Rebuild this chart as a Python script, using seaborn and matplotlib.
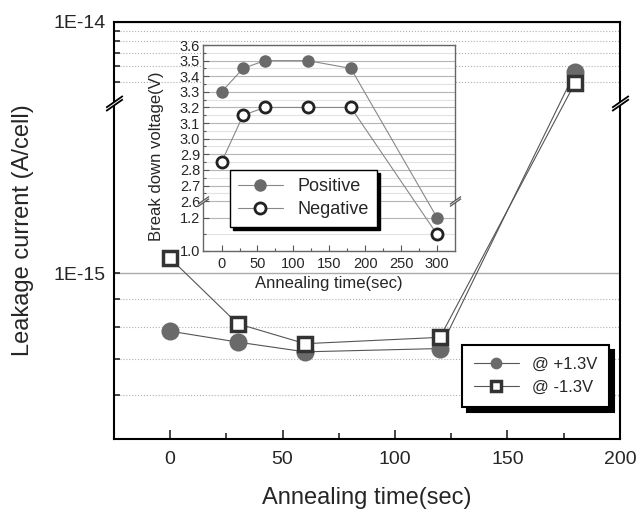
import numpy as np
import seaborn as sns
import matplotlib.pyplot as plt
from matplotlib.path import Path
from matplotlib.ticker import FixedLocator, FixedFormatter, NullFormatter

# main plot data (leakage current vs annealing time)
anneal_time = [0, 30, 60, 120, 180]
leak_pos = [7.85e-16, 7.5e-16, 7.2e-16, 7.3e-16, 5.6e-15]
leak_neg = [1.065e-15, 8.1e-16, 7.45e-16, 7.65e-16, 4.95e-15]

# inset data (break down voltage vs annealing time)
inset_time = [0, 30, 60, 120, 180, 300]
bv_pos = [3.3, 3.45, 3.5, 3.5, 3.45, 1.2]
bv_neg = [2.85, 3.15, 3.2, 3.2, 3.2, 1.1]

main_yticks = [1e-15, 1e-14]
main_ylabels = ['1E-15', '1E-14']
inset_yticks = [1.0, 1.2, 2.6, 2.7, 2.8, 2.9, 3.0, 3.1, 3.2, 3.3, 3.4, 3.5, 3.6]

sns.set_style('ticks')
plt.rcParams['font.family'] = ['Liberation Sans', 'DejaVu Sans']

# broken log scale: 5e-16..2e-15 below the break, 4e-15..1e-14 above
LO_MIN, LO_MAX, HI_MIN = 5e-16, 2.04e-15, 3.94e-15
LO_SPAN = np.log10(LO_MAX / LO_MIN)
HI_W = 200 / 550


def fwd_log(y):
    with np.errstate(all='ignore'):
        ly = np.log10(np.clip(np.asarray(y, float), 1e-30, None))
        lo = ly - np.log10(LO_MIN)
        hi = LO_SPAN + (ly - np.log10(HI_MIN)) * HI_W
        return np.where(ly <= np.log10(LO_MAX), lo,
                        np.where(ly >= np.log10(HI_MIN), hi, LO_SPAN))


def inv_log(u):
    with np.errstate(all='ignore'):
        u = np.asarray(u, float)
        lo = 10 ** (u + np.log10(LO_MIN))
        hi = 10 ** ((u - LO_SPAN) / HI_W + np.log10(HI_MIN))
        return np.where(u <= LO_SPAN, lo, hi)


# broken linear scale for the inset: 1.0..1.3 and 2.6..3.6
def fwd_bv(y):
    y = np.asarray(y, float)
    return np.where(y <= 1.3, y - 1.0, np.where(y >= 2.6, 0.3 + (y - 2.6) * 0.94, 0.3))


def inv_bv(u):
    u = np.asarray(u, float)
    return np.where(u <= 0.3, u + 1.0, 2.6 + (u - 0.3) / 0.94)


def break_marks(ax, yval, size, color, lw):
    gap = Path([(-1, -0.9), (1, 0.5), (1, 0.9), (-1, -0.5), (-1, -0.9)])
    lines = Path([(-1, -0.9), (1, 0.5), (-1, -0.5), (1, 0.9)],
                 [Path.MOVETO, Path.LINETO, Path.MOVETO, Path.LINETO])
    for xpos in (0, 1):
        ax.plot([xpos], [yval], transform=ax.get_yaxis_transform(), clip_on=False,
                marker=gap, markersize=size, markerfacecolor='white',
                markeredgewidth=0, linestyle='none', zorder=10)
        ax.plot([xpos], [yval], transform=ax.get_yaxis_transform(), clip_on=False,
                marker=lines, markersize=size, markerfacecolor='none',
                markeredgecolor=color, markeredgewidth=lw, linestyle='none', zorder=11)


fig = plt.figure(figsize=(6.4, 5.12), dpi=100)
ax = fig.add_axes([0.178, 0.1426, 0.7906, 0.8145])

sns.lineplot(x=anneal_time, y=leak_pos, ax=ax, color='#555555', lw=0.8, marker='o',
             markersize=13, markerfacecolor='#6a6a6a', markeredgecolor='#6a6a6a',
             markeredgewidth=0, label='@ +1.3V', legend=False)
sns.lineplot(x=anneal_time, y=leak_neg, ax=ax, color='#555555', lw=0.8, marker='s',
             markersize=10, markerfacecolor='white', markeredgecolor='#333333',
             markeredgewidth=2.5, label='@ -1.3V', legend=False)

ax.set_yscale('function', functions=(fwd_log, inv_log))
ax.set_ylim(LO_MIN, 1e-14)
ax.set_xlim(-25, 200)
ax.yaxis.set_major_locator(FixedLocator(main_yticks))
ax.yaxis.set_major_formatter(FixedFormatter(main_ylabels))
ax.yaxis.set_minor_locator(FixedLocator([6e-16, 7e-16, 8e-16, 9e-16,
                                         5e-15, 6e-15, 7e-15, 8e-15, 9e-15]))
ax.yaxis.set_minor_formatter(NullFormatter())
ax.xaxis.set_major_locator(FixedLocator([0, 50, 100, 150, 200]))
ax.xaxis.set_minor_locator(FixedLocator([25, 75, 125, 175]))
ax.grid(True, axis='y', which='major', color='#aaaaaa', lw=1, ls='-')
ax.grid(True, axis='y', which='minor', color='#b0b0b0', lw=0.8, ls=':')
ax.tick_params(axis='x', which='major', direction='in', length=6.5, width=1.2,
               labelsize=14, pad=9)
ax.tick_params(axis='x', which='minor', direction='in', length=4, width=1.2)
ax.tick_params(axis='y', which='both', direction='in', length=4, width=1.2,
               labelsize=14, pad=6)
for s in ax.spines.values():
    s.set_linewidth(1.5)
    s.set_color('black')
ax.set_xlabel('Annealing time(sec)', fontsize=17, labelpad=13)
ax.set_ylabel('Leakage current (A/cell)', fontsize=17, labelpad=14)
break_marks(ax, HI_MIN, 12, 'black', 1.3)

h, l = ax.get_legend_handles_labels()
fig.legend(h, l, loc='upper left', bbox_to_anchor=(0.722, 0.326), fontsize=12,
           markerscale=0.65, handlelength=2.7, fancybox=False, framealpha=1,
           edgecolor='black', borderpad=0.7, labelspacing=0.5, borderaxespad=0,
           shadow={'color': 'black', 'alpha': 1, 'ox': 3.5, 'oy': -3.5}
           ).get_frame().set_linewidth(1.5)

# inset
ins = fig.add_axes([0.317, 0.5098, 0.394, 0.4023])
ins.set_facecolor('white')
sns.lineplot(x=inset_time, y=bv_pos, ax=ins, color='#888888', lw=0.8, marker='o',
             markersize=9, markerfacecolor='#6a6a6a', markeredgecolor='#6a6a6a',
             markeredgewidth=0, label='Positive', legend=False)
sns.lineplot(x=inset_time, y=bv_neg, ax=ins, color='#888888', lw=0.8, marker='o',
             markersize=8, markerfacecolor='white', markeredgecolor='#222222',
             markeredgewidth=2, label='Negative', legend=False)
ins.set_yscale('function', functions=(fwd_bv, inv_bv))
ins.set_ylim(1.0, 3.6)
ins.set_xlim(-26, 325)
ins.yaxis.set_major_locator(FixedLocator(inset_yticks))
ins.yaxis.set_major_formatter(FixedFormatter(['%.1f' % v for v in inset_yticks]))
ins.yaxis.set_minor_locator(FixedLocator([1.1, 1.3] + [2.65 + 0.1 * i for i in range(10)]))
ins.yaxis.set_minor_formatter(NullFormatter())
ins.xaxis.set_major_locator(FixedLocator([0, 50, 100, 150, 200, 250, 300]))
ins.xaxis.set_minor_locator(FixedLocator([25, 75, 125, 175, 225, 275]))
ins.grid(True, axis='y', which='major', color='#b5b5b5', lw=0.8)
ins.grid(True, axis='y', which='minor', color='#e2e2e2', lw=0.8)
ins.tick_params(axis='both', which='major', direction='in', length=4, width=0.8,
                labelsize=10.5, color='#555555')
ins.tick_params(axis='both', which='minor', direction='in', length=2.5, width=0.8,
                color='#555555')
ins.tick_params(axis='x', pad=4)
ins.tick_params(axis='y', pad=2)
for s in ins.spines.values():
    s.set_linewidth(1)
    s.set_color('#666666')
ins.set_xlabel('Annealing time(sec)', fontsize=12, labelpad=4)
ins.set_ylabel('Break down voltage(V)', fontsize=12, labelpad=3)
ins.yaxis.set_label_coords(-0.155, 0.46)
break_marks(ins, 2.6, 8, '#555555', 0.9)

h, l = ins.get_legend_handles_labels()
fig.legend(h, l, loc='upper left', bbox_to_anchor=(0.359, 0.668), fontsize=13,
           handlelength=2.5, fancybox=False, framealpha=1, edgecolor='black',
           borderpad=0.45, labelspacing=0.35, borderaxespad=0,
           shadow={'color': 'black', 'alpha': 1, 'ox': 2.5, 'oy': -2.5}
           ).get_frame().set_linewidth(1)

fig.savefig('out.png', dpi=100)
